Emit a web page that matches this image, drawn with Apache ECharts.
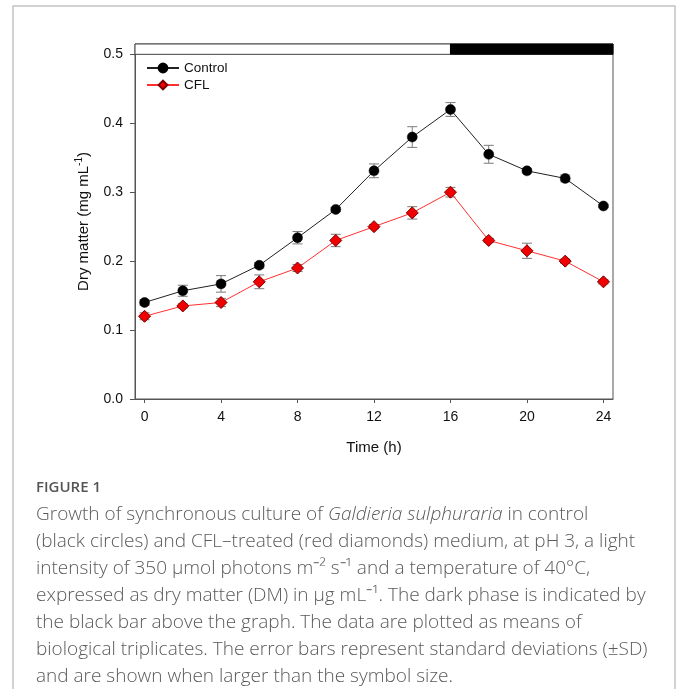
<!DOCTYPE html>
<html>
<head>
<meta charset="utf-8">
<script src="https://cdn.jsdelivr.net/npm/echarts@6/dist/echarts.min.js"></script>
<style>
html,body{margin:0;padding:0;background:#fff;}
#chart{width:677px;height:689px;}
</style>
</head>
<body>
<div id="chart"></div>
<script>
// ---- data ----
var timeH = [0, 2, 4, 6, 8, 10, 12, 14, 16, 18, 20, 22, 24];
var controlDM = [0.140, 0.157, 0.167, 0.194, 0.234, 0.275, 0.331, 0.380, 0.420, 0.355, 0.331, 0.320, 0.280];
var controlSD = [0.004, 0.008, 0.012, 0.004, 0.009, 0.003, 0.010, 0.015, 0.010, 0.013, 0.003, 0.005, 0.002];
var cflDM = [0.120, 0.135, 0.140, 0.170, 0.190, 0.230, 0.250, 0.270, 0.300, 0.230, 0.215, 0.200, 0.170];
var cflSD = [0.005, 0.003, 0.006, 0.010, 0.005, 0.009, 0.003, 0.009, 0.007, 0.003, 0.011, 0.003, 0.003];
var xTicks = [0, 4, 8, 12, 16, 20, 24];
var yTicks = [0, 0.1, 0.2, 0.3, 0.4, 0.5];
var xRange = [-0.5, 24.5];
var yRange = [0, 0.515];
// light / dark phase bar: [start h, end h, phase]
var phases = [[-0.5, 16, 'light'], [16, 24.5, 'dark']];
var phaseBarY = [0.5, 0.515];
var seriesNames = ['Control', 'CFL'];

function pairs(xs, ys) { return xs.map(function (x, i) { return [x, ys[i]]; }); }
function errs(xs, ys, sd) { return xs.map(function (x, i) { return [x, ys[i] - sd[i], ys[i] + sd[i]]; }); }

function errRender(params, api) {
  var x = api.value(0);
  var lo = api.coord([x, api.value(1)]);
  var hi = api.coord([x, api.value(2)]);
  var w = 5;
  var st = { stroke: '#7a7a7a', lineWidth: 1 };
  return {
    type: 'group',
    children: [
      { type: 'line', shape: { x1: lo[0], y1: lo[1], x2: hi[0], y2: hi[1] }, style: st },
      { type: 'line', shape: { x1: lo[0] - w, y1: lo[1], x2: lo[0] + w, y2: lo[1] }, style: st },
      { type: 'line', shape: { x1: hi[0] - w, y1: hi[1], x2: hi[0] + w, y2: hi[1] }, style: st }
    ]
  };
}

var phaseAreas = phases.map(function (p) {
  var dark = p[2] === 'dark';
  return [
    { xAxis: p[0], yAxis: phaseBarY[0], itemStyle: { color: dark ? '#000' : '#fff', borderColor: dark ? '#000' : '#444', borderWidth: 1 } },
    { xAxis: p[1], yAxis: phaseBarY[1] }
  ];
});

var chart = echarts.init(document.getElementById('chart'), null, { renderer: 'canvas' });
var axisFont = '"Liberation Sans", Arial, sans-serif';
var capFont = '"Open Sans", sans-serif';

chart.setOption({
  animation: false,
  backgroundColor: '#fff',
  grid: { left: 135, right: 64, top: 44, bottom: 290, show: true, borderColor: '#555', borderWidth: 1, containLabel: false },
  legend: {
    orient: 'vertical', left: 146, top: 61, padding: 0, itemWidth: 32, itemHeight: 11, itemGap: 3,
    textStyle: { fontFamily: axisFont, fontSize: 13.5, color: '#111' },
    data: seriesNames
  },
  xAxis: {
    type: 'value', min: xRange[0], max: xRange[1],
    name: 'Time (h)', nameLocation: 'middle', nameGap: 41,
    nameTextStyle: { fontFamily: axisFont, fontSize: 15, color: '#111' },
    axisLine: { onZero: false, lineStyle: { color: '#555' } },
    axisTick: { show: true, length: 4, lineStyle: { color: '#555' }, customValues: xTicks },
    axisLabel: { fontFamily: axisFont, fontSize: 14, color: '#111', margin: 11, customValues: xTicks },
    splitLine: { show: false }
  },
  yAxis: {
    type: 'value', min: yRange[0], max: yRange[1],
    name: '{a|Dry matter (mg mL}{s|-1}{a|)}', nameLocation: 'middle', nameGap: 35,
    nameTextStyle: {
      fontFamily: axisFont, fontSize: 15, color: '#111',
      rich: {
        a: { fontFamily: axisFont, fontSize: 15, color: '#111', lineHeight: 19 },
        s: { fontFamily: axisFont, fontSize: 10, color: '#111', lineHeight: 19, padding: [0, 0, 8, 0] }
      }
    },
    axisLine: { onZero: false, lineStyle: { color: '#555' } },
    axisTick: { show: true, length: 5, lineStyle: { color: '#555' }, customValues: yTicks },
    axisLabel: { fontFamily: axisFont, fontSize: 14, color: '#111', margin: 12, customValues: yTicks,
      formatter: function (v) { return v.toFixed(1); } },
    splitLine: { show: false }
  },
  series: [
    {
      type: 'custom', name: 'ctrlErr', renderItem: errRender, z: 1,
      data: errs(timeH, controlDM, controlSD), encode: { x: 0, y: [1, 2] }, silent: true
    },
    {
      type: 'custom', name: 'cflErr', renderItem: errRender, z: 1,
      data: errs(timeH, cflDM, cflSD), encode: { x: 0, y: [1, 2] }, silent: true
    },
    {
      type: 'line', name: 'Control', data: pairs(timeH, controlDM), z: 3,
      symbol: 'circle', symbolSize: 10, showAllSymbol: true,
      lineStyle: { color: '#222', width: 1 },
      itemStyle: { color: '#000', borderColor: '#000', borderWidth: 0.5 },
      markArea: { silent: true, data: phaseAreas }
    },
    {
      type: 'line', name: 'CFL', data: pairs(timeH, cflDM), z: 4,
      symbol: 'diamond', symbolSize: 12, showAllSymbol: true,
      lineStyle: { color: '#ff3030', width: 1 },
      itemStyle: { color: '#f00000', borderColor: '#7a0000', borderWidth: 1 }
    }
  ],
  graphic: [
    { type: 'rect', shape: { x: 13, y: 6, width: 662, height: 700 }, style: { fill: 'none', stroke: '#c4c4c4', lineWidth: 1.5 }, z: -10, silent: true },
    { type: 'text', left: 36, top: 480, style: { text: 'FIGURE 1', font: '600 15px ' + capFont, fill: '#555' } },
    {
      type: 'text', left: 36, top: 501,
      style: {
        text: 'Growth of synchronous culture of {i|Galdieria sulphuraria} in control\n' +
          '(black circles) and CFL\u2013treated (red diamonds) medium, at pH 3, a light\n' +
          'intensity of 350 \u00b5mol photons m\u207b\u00b2 s\u207b\u00b9 and a temperature of 40\u00b0C,\n' +
          'expressed as dry matter (DM) in \u00b5g mL\u207b\u00b9. The dark phase is indicated by\n' +
          'the black bar above the graph. The data are plotted as means of\n' +
          'biological triplicates. The error bars represent standard deviations (\u00b1SD)\n' +
          'and are shown when larger than the symbol size.',
        font: '300 19px ' + capFont, fill: '#5a5a5a', lineHeight: 27,
        rich: { i: { fontStyle: 'italic', fontFamily: capFont, fontSize: 19, fontWeight: 300, fill: '#5a5a5a', lineHeight: 27 } }
      }
    }
  ]
});
</script>
</body>
</html>
